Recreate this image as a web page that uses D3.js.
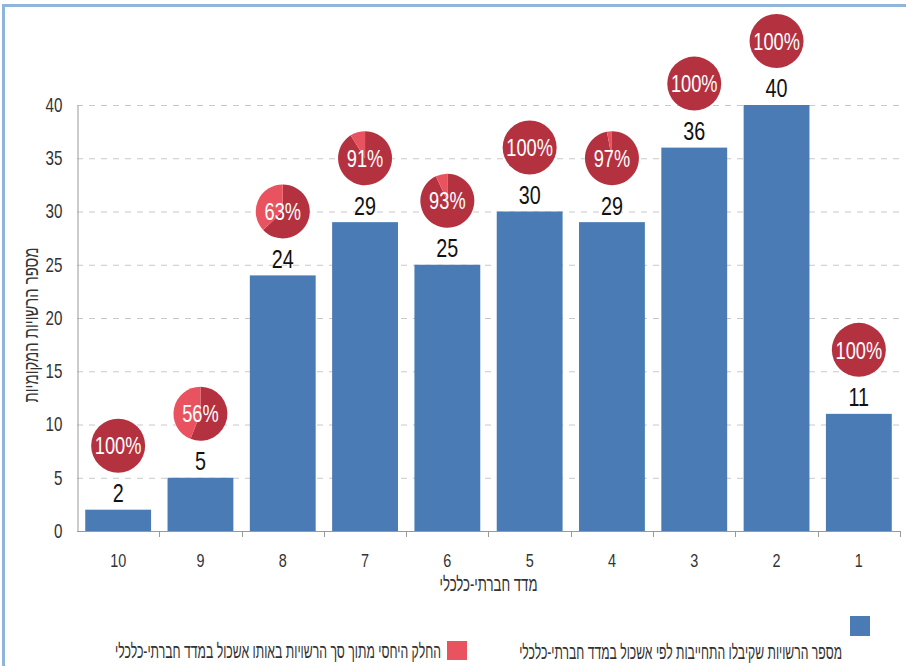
<!DOCTYPE html>
<html>
<head>
<meta charset="utf-8">
<script src="https://cdn.jsdelivr.net/npm/d3@7"></script>
<style>
  html, body { margin: 0; padding: 0; background: #fff; }
  svg { display: block; }
  text { font-family: 'Liberation Sans', Arial, sans-serif; }
</style>
</head>
<body>
<svg id="chart" width="906" height="666"></svg>
<script>
// ---- data ----
const categories = ["10", "9", "8", "7", "6", "5", "4", "3", "2", "1"];
const counts = [2, 5, 24, 29, 25, 30, 29, 36, 40, 11];
const shares = [100, 56, 63, 91, 93, 100, 97, 100, 100, 100];
const yTicks = [0, 5, 10, 15, 20, 25, 30, 35, 40];
const xTitle = "מדד חברתי-כלכלי";
const yTitle = "מספר הרשויות המקומיות";
const legendBars = "מספר הרשויות שקיבלו התחייבות לפי אשכול במדד חברתי-כלכלי";
const legendShare = "החלק היחסי מתוך סך הרשויות באותו אשכול במדד חברתי-כלכלי";

(function () {
const blue = "#4a7bb4", dark = "#b43240", light = "#e9535f";
const SX = 0.76; // horizontal squeeze to mimic the condensed typeface
const svg = d3.select("#chart");

function label(parent, tx, ty, size, anchor, txt, fill, extra) {
  return parent.append("text")
    .attr("transform", `translate(${tx},${ty})${extra || ""} scale(${SX},1)`)
    .attr("dy", "0.36em").attr("text-anchor", anchor)
    .attr("font-size", size).attr("fill", fill).text(txt);
}
// Hebrew text squeezed horizontally to a target width
function heb(parent, tx, ty, size, anchor, txt, width, extra) {
  const t = parent.append("text")
    .attr("dy", "0.36em").attr("text-anchor", anchor)
    .attr("font-size", size).attr("fill", "#333").text(txt);
  const natural = t.node().getComputedTextLength() || width;
  t.attr("transform", `translate(${tx},${ty})${extra || ""} scale(${width / natural},1)`);
  return t;
}

// frame
svg.append("path")
  .attr("d", "M3.5,670 L3.5,5.5 L910,5.5")
  .attr("fill", "none").attr("stroke", "#8fb5da").attr("stroke-width", 3);

const pLeft = 77, pRight = 900, pTop = 105, pBottom = 531;
const x = d3.scaleBand().domain(categories).range([pLeft, pRight]).paddingInner(0.2).paddingOuter(0.1);
const y = d3.scaleLinear().domain([0, 40]).range([pBottom, pTop]);

// gridlines
svg.append("g").selectAll("line").data(yTicks.filter(d => d > 0)).join("line")
  .attr("x1", pLeft).attr("x2", pRight)
  .attr("y1", d => y(d) + 0.5).attr("y2", d => y(d) + 0.5)
  .attr("stroke", "#c8c8c8").attr("stroke-width", 1).attr("stroke-dasharray", "6,6");

// y axis
const yAxis = svg.append("g").attr("transform", `translate(${pLeft + 0.5},0)`)
  .call(d3.axisLeft(y).tickValues(yTicks).tickSize(0).tickPadding(15));
yAxis.select(".domain").attr("stroke", "#999");
yAxis.selectAll("text").attr("x", null).attr("transform", `translate(-15,0) scale(${SX},1)`)
  .attr("font-size", 20).attr("fill", "#333").attr("font-family", "'Liberation Sans', Arial, sans-serif");

// x axis
const xAxis = svg.append("g").attr("transform", `translate(0,${pBottom + 0.5})`)
  .call(d3.axisBottom(x).tickSize(0).tickPadding(22));
xAxis.select(".domain").attr("stroke", "#999").attr("d", `M${pLeft},0H${pRight}`);
xAxis.selectAll("text").attr("transform", `scale(${SX},1)`)
  .attr("font-size", 19).attr("fill", "#333").attr("font-family", "'Liberation Sans', Arial, sans-serif");
// separators between bands
const bounds = categories.map(c => x(c) - x.step() * x.paddingInner() / 2).slice(1).concat([pRight]);
svg.append("g").selectAll("line").data(bounds).join("line")
  .attr("x1", d => Math.round(d) + 0.5).attr("x2", d => Math.round(d) + 0.5)
  .attr("y1", pBottom).attr("y2", pBottom + 6)
  .attr("stroke", "#999");

// bars
svg.append("g").selectAll("rect").data(categories).join("rect")
  .attr("x", (d) => x(d)).attr("width", x.bandwidth())
  .attr("y", (d, i) => y(counts[i])).attr("height", (d, i) => y(0) - y(counts[i]))
  .attr("fill", blue);

// value labels
const vg = svg.append("g");
categories.forEach((c, i) => {
  label(vg, x(c) + x.bandwidth() / 2, y(counts[i]) - 17, 26, "middle", counts[i], "#111");
});

// pies
const r = 27;
const pie = d3.pie().sort(null).value(d => d.v);
const arc = d3.arc().innerRadius(0).outerRadius(r);
categories.forEach((c, i) => {
  const g = svg.append("g")
    .attr("transform", `translate(${x(c) + x.bandwidth() / 2},${y(counts[i]) - 64})`);
  const parts = [{ v: shares[i], c: dark }, { v: 100 - shares[i], c: light }];
  g.selectAll("path").data(pie(parts)).join("path")
    .attr("d", arc).attr("fill", d => d.data.c);
  label(g, 0, 0, 24, "middle", shares[i] + "%", "#fff");
});

// axis titles
heb(svg, (pLeft + pRight) / 2, 584, 20, "middle", xTitle, 98);
heb(svg, 31, 325, 20, "middle", yTitle, 155, " rotate(-90)");

// legend
svg.append("rect").attr("x", 850).attr("y", 616).attr("width", 20).attr("height", 20).attr("fill", blue);
heb(svg, 842, 652, 20, "end", legendBars, 323);
svg.append("rect").attr("x", 447).attr("y", 641).attr("width", 20).attr("height", 19).attr("fill", light);
heb(svg, 441, 651, 20, "end", legendShare, 326);
})();
</script>
</body>
</html>
